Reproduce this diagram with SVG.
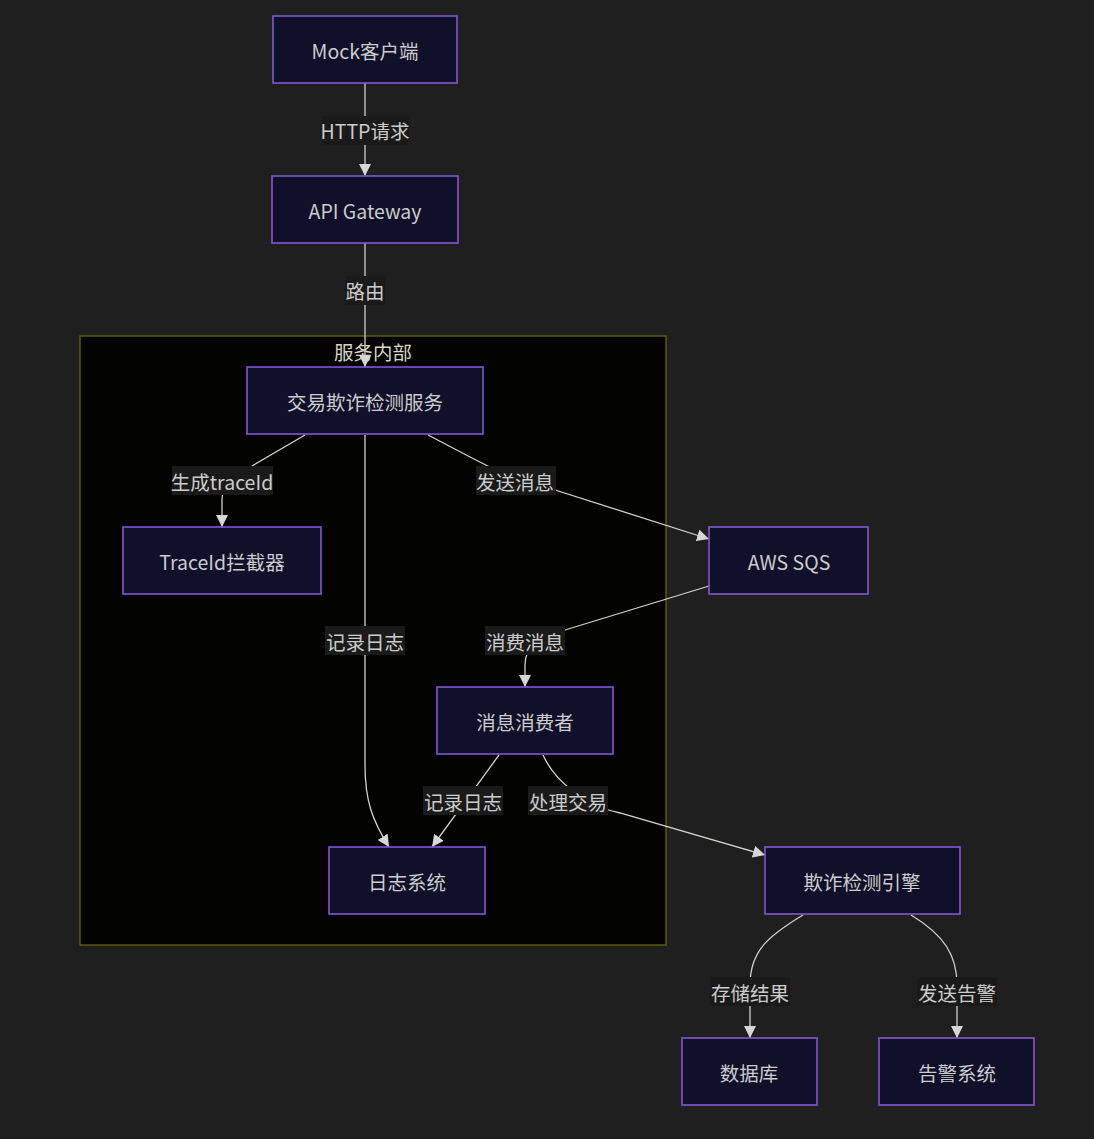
<svg xmlns="http://www.w3.org/2000/svg" width="1094" height="1139" viewBox="0 0 1094 1139">
<style>
.node rect{fill:#10102a;stroke:#8355d0;stroke-width:1.6}
.node text,.lbl text{font-family:"Noto Sans CJK SC","Noto Sans",sans-serif;font-size:19.5px;fill:#cccccc;text-anchor:middle;dominant-baseline:central}
.lbl rect{fill:#1a1a1a}
.edge{fill:none;stroke:#d2d2c4;stroke-width:1.3}
.edge.o{stroke:#cfcfcf}
.cluster rect{fill:#030302;stroke:#66660a;stroke-width:1.3}
.cluster text{font-family:"Noto Sans CJK SC","Noto Sans",sans-serif;font-size:19.5px;fill:#d8d8c2;text-anchor:middle;dominant-baseline:central}
</style>
<defs>
<marker id="arr" viewBox="0 0 10 10" refX="10" refY="5" markerUnits="userSpaceOnUse" markerWidth="12" markerHeight="12" orient="auto">
<path d="M0,0 L10,5 L0,10 z" fill="#d6d6d6"/>
</marker>
</defs>
<rect x="0" y="0" width="1094" height="1139" fill="#1f1f1f"/>
<g id="cluster-internal" class="cluster">
<rect x="80" y="336" width="586" height="609"/>
<text x="373" y="351">服务内部</text>
</g>
<g id="edges">
<path class="edge o" d="M365,83 L365,176" marker-end="url(#arr)"/>
<path class="edge o" d="M365,243 L365,367" marker-end="url(#arr)"/>
<path class="edge" d="M305,435 L252,466 C230,479 222,487 222,500 L222,527" marker-end="url(#arr)"/>
<path class="edge" d="M428,435 L472,458 C490,468 505,475 530,482 L709,539" marker-end="url(#arr)"/>
<path class="edge" d="M365,435 L365,765 C365,800 372,820 389,847" marker-end="url(#arr)"/>
<path class="edge" d="M709,586 L565,630 C535,640 525,648 525,665 L525,687" marker-end="url(#arr)"/>
<path class="edge" d="M499,755 L432,847" marker-end="url(#arr)"/>
<path class="edge" d="M543,755 C550,770 558,780 572,790 C590,805 600,808 620,813 L765,855" marker-end="url(#arr)"/>
<path class="edge o" d="M803,915 C770,935 750,950 750,985 L750,1038" marker-end="url(#arr)"/>
<path class="edge o" d="M911,915 C944,935 957,955 957,985 L957,1038" marker-end="url(#arr)"/>
</g>
<g id="edge-labels">
<g class="lbl"><rect x="322" y="116" width="87" height="29"/><text x="365" y="130">HTTP请求</text></g>
<g class="lbl"><rect x="345" y="276" width="40" height="29"/><text x="365" y="290">路由</text></g>
<g class="lbl"><rect x="172" y="466" width="101" height="29"/><text x="222" y="481">生成traceId</text></g>
<g class="lbl"><rect x="476" y="466" width="80" height="29"/><text x="515" y="481">发送消息</text></g>
<g class="lbl"><rect x="325" y="626" width="80" height="29"/><text x="365" y="641">记录日志</text></g>
<g class="lbl"><rect x="485" y="626" width="80" height="29"/><text x="525" y="641">消费消息</text></g>
<g class="lbl"><rect x="423" y="786" width="80" height="29"/><text x="463" y="801">记录日志</text></g>
<g class="lbl"><rect x="528" y="786" width="80" height="29"/><text x="568" y="801">处理交易</text></g>
<g class="lbl"><rect x="710" y="977" width="80" height="29"/><text x="750" y="992">存储结果</text></g>
<g class="lbl"><rect x="917" y="977" width="80" height="29"/><text x="957" y="992">发送告警</text></g>
</g>
<g id="mock" class="node"><rect x="273" y="16" width="184" height="67"/><text x="365" y="50">Mock客户端</text></g>
<g id="gateway" class="node"><rect x="272" y="176" width="186" height="67"/><text x="365" y="210">API Gateway</text></g>
<g id="service" class="node"><rect x="247" y="367" width="236" height="67"/><text x="365" y="401">交易欺诈检测服务</text></g>
<g id="trace" class="node"><rect x="123" y="527" width="198" height="67"/><text x="222" y="561">TraceId拦截器</text></g>
<g id="sqs" class="node"><rect x="709" y="527" width="159" height="67"/><text x="789" y="561">AWS SQS</text></g>
<g id="consumer" class="node"><rect x="437" y="687" width="176" height="67"/><text x="525" y="721">消息消费者</text></g>
<g id="logsys" class="node"><rect x="329" y="847" width="156" height="67"/><text x="407" y="881">日志系统</text></g>
<g id="engine" class="node"><rect x="765" y="847" width="195" height="67"/><text x="862" y="881">欺诈检测引擎</text></g>
<g id="db" class="node"><rect x="682" y="1038" width="135" height="67"/><text x="749" y="1072">数据库</text></g>
<g id="alert" class="node"><rect x="879" y="1038" width="155" height="67"/><text x="957" y="1072">告警系统</text></g>
</svg>
